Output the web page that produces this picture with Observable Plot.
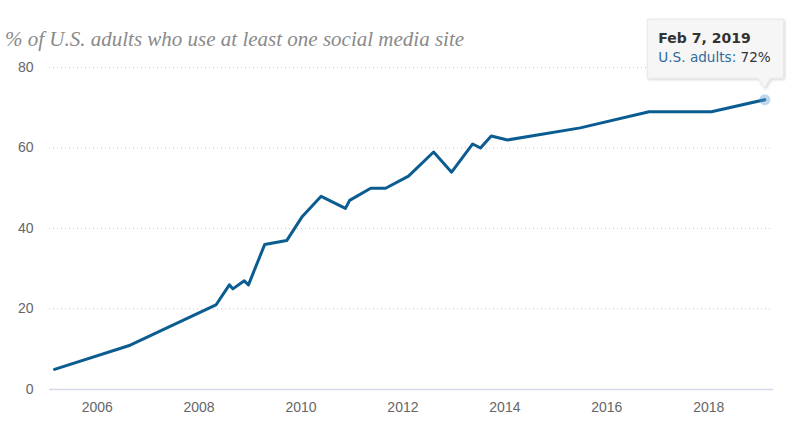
<!DOCTYPE html>
<html>
<head>
<meta charset="utf-8">
<script src="https://cdn.jsdelivr.net/npm/d3@7"></script>
<script src="https://cdn.jsdelivr.net/npm/@observablehq/plot@0.6"></script>
<style>
  html, body { margin: 0; padding: 0; background: #fff; }
  #wrap { position: relative; width: 800px; height: 433px; overflow: hidden; }
  #title { position: absolute; left: 5px; top: 29px; font-family: "Liberation Serif", serif; font-style: italic; font-size: 21px; line-height: 21px; color: #8a8a8a; white-space: nowrap; }
  #chart { position: absolute; left: 0; top: 0; }
  #overlay { position: absolute; left: 0; top: 0; pointer-events: none; }
</style>
</head>
<body>
<div id="wrap">
  <div id="chart"></div>
  <div id="title">% of U.S. adults who use at least one social media site</div>
  <svg id="overlay" width="800" height="433"></svg>
</div>
<script>
// ---- data ----
const surveyDates = [
  "2005-03-01", "2006-08-25", "2008-05-01", "2008-08-05", "2008-08-30",
  "2008-11-20", "2008-12-20", "2009-04-15", "2009-09-20", "2010-01-10",
  "2010-05-25", "2010-11-15", "2010-12-15", "2011-05-15", "2011-08-30",
  "2012-02-10", "2012-08-08", "2012-12-15", "2013-05-15", "2013-07-10",
  "2013-09-25", "2014-01-20", "2015-06-25", "2016-10-30", "2018-01-20",
  "2019-02-07"
];
const adultsPct = [
  5, 11, 21, 26, 25,
  27, 26, 36, 37, 43,
  48, 45, 47, 50, 50,
  53, 59, 54, 61, 60,
  63, 62, 65, 69, 69,
  72
];
const xTickYears = [2006, 2008, 2010, 2012, 2014, 2016, 2018];
const yTicks = [0, 20, 40, 60, 80];
const seriesName = "U.S. adults";
const tooltipDate = "Feb 7, 2019";

(function () {
const data = surveyDates.map((d, i) => ({ date: new Date(d), value: adultsPct[i] }));
const last = data[data.length - 1];
const lineColor = "#0b5c91";

const chart = Plot.plot({
  width: 800,
  height: 433,
  marginLeft: 49,
  marginRight: 27,
  marginTop: 67,
  marginBottom: 44,
  style: { fontFamily: "'Liberation Sans', Arial, sans-serif", fontSize: "14px", color: "#666", background: "transparent" },
  x: {
    type: "utc",
    domain: [new Date("2005-01-24"), new Date("2019-04-10")],
    ticks: xTickYears.map(y => new Date(Date.UTC(y, 0, 1))),
    tickFormat: d => String(d.getUTCFullYear()),
    tickSize: 0,
    tickPadding: 13,
    label: null
  },
  y: {
    domain: [0, 80],
    ticks: yTicks,
    tickSize: 0,
    tickPadding: 16,
    label: null
  },
  marks: [
    Plot.ruleY(yTicks.filter(v => v > 0), { stroke: "#c8c8c8", strokeDasharray: "1,3", strokeWidth: 1 }),
    Plot.ruleY([0], { stroke: "#d5d9ea", strokeWidth: 1.6 }),
    Plot.line(data, { x: "date", y: "value", stroke: lineColor, strokeWidth: 3, strokeLinejoin: "round", strokeLinecap: "round" }),
    Plot.dot([last], { x: "date", y: "value", r: 5.5, fill: "#5b9bd0", fillOpacity: 0.4, stroke: "none" })
  ]
});
document.getElementById("chart").appendChild(chart);

// ---- tooltip anchored to the last point via the chart's scales ----
const px = chart.scale("x").apply(last.date);
const py = chart.scale("y").apply(last.value);
const ns = "http://www.w3.org/2000/svg";
const ov = document.getElementById("overlay");
const defs = document.createElementNS(ns, "defs");
defs.innerHTML = `<filter id="sh" x="-20%" y="-20%" width="150%" height="160%">
  <feDropShadow dx="1" dy="1" stdDeviation="1.5" flood-color="#000" flood-opacity="0.18"/></filter>`;
ov.appendChild(defs);
const bx0 = px - 117, bx1 = px + 19, by0 = py - 80, by1 = py - 21, tipY = py - 11;
const box = document.createElementNS(ns, "path");
box.setAttribute("d", `M${bx0},${by0}H${bx1}V${by1}H${px + 6}L${px},${tipY}L${px - 6},${by1}H${bx0}Z`);
box.setAttribute("fill", "#f7f7f7");
box.setAttribute("fill-opacity", "0.96");
box.setAttribute("stroke", "#e4e4e4");
box.setAttribute("stroke-width", "0.8");
box.setAttribute("filter", "url(#sh)");
ov.appendChild(box);
const t1 = document.createElementNS(ns, "text");
t1.setAttribute("x", bx0 + 11);
t1.setAttribute("y", by0 + 24);
t1.setAttribute("font-family", "'DejaVu Sans', Verdana, sans-serif");
t1.setAttribute("font-size", "14");
t1.setAttribute("font-weight", "bold");
t1.setAttribute("fill", "#333");
t1.textContent = tooltipDate;
ov.appendChild(t1);
const t2 = document.createElementNS(ns, "text");
t2.setAttribute("x", bx0 + 11);
t2.setAttribute("y", by0 + 43);
t2.setAttribute("font-family", "'DejaVu Sans', Verdana, sans-serif");
t2.setAttribute("font-size", "13.6");
const s1 = document.createElementNS(ns, "tspan");
s1.setAttribute("fill", "#2f6b99");
s1.textContent = seriesName + ": ";
const s2 = document.createElementNS(ns, "tspan");
s2.setAttribute("fill", "#333");
s2.textContent = last.value + "%";
t2.appendChild(s1); t2.appendChild(s2);
ov.appendChild(t2);
})();
</script>
</body>
</html>
